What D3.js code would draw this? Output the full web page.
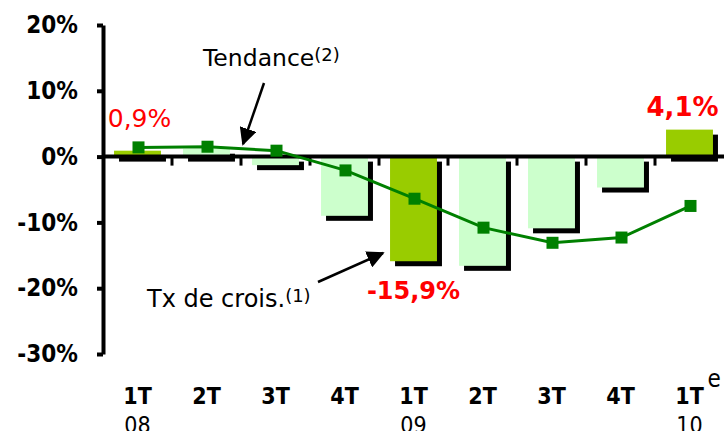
<!DOCTYPE html>
<html>
<head>
<meta charset="utf-8">
<script src="https://cdn.jsdelivr.net/npm/d3@7"></script>
<style>
  body { margin: 0; background: #fff; }
  svg { display: block; }
  text { font-family: "DejaVu Sans Condensed", "DejaVu Sans", sans-serif; }
  text.wide { font-family: "DejaVu Sans", sans-serif; }
</style>
</head>
<body>
<svg id="chart" width="724" height="431"></svg>
<script>
// data
const quarters = ["1T", "2T", "3T", "4T", "1T", "2T", "3T", "4T", "1T"];
const years = ["08", "", "", "", "09", "", "", "", "10"];
const growth = [0.9, 1.2, -1.3, -9.0, -15.9, -16.6, -10.9, -4.7, 4.1];
const trend = [1.4, 1.5, 0.9, -2.1, -6.4, -10.8, -13.1, -12.3, -7.5];
const yTicks = [20, 10, 0, -10, -20, -30];
const valueLabels = [
  { i: 0, text: "0,9%", bold: false },
  { i: 4, text: "-15,9%", bold: true },
  { i: 8, text: "4,1%", bold: true },
];

const keys = quarters.map((q, i) => i);
const svg = d3.select("#chart");

const x = d3.scaleBand().domain(keys).range([103, 724])
  .paddingInner(0.32).paddingOuter(0.16);
const y = d3.scaleLinear().domain([-30, 20]).range([354, 25]);

const barColor = (i) => (quarters[i] === "1T" ? "#99cc00" : "#ccffcc");
const off = 5;

// bar shadows
svg.append("g").selectAll("rect").data(growth).join("rect")
  .attr("x", (d, i) => x(i) + off)
  .attr("y", (d) => Math.min(y(d), y(0)) + off)
  .attr("width", x.bandwidth())
  .attr("height", (d) => Math.abs(y(d) - y(0)))
  .attr("fill", "#000");

// bars
svg.append("g").selectAll("rect").data(growth).join("rect")
  .attr("x", (d, i) => x(i))
  .attr("y", (d) => Math.min(y(d), y(0)))
  .attr("width", x.bandwidth())
  .attr("height", (d) => Math.abs(y(d) - y(0)))
  .attr("fill", (d, i) => barColor(i));

// y axis
const yAxis = svg.append("g")
  .attr("transform", "translate(103,0)")
  .call(d3.axisLeft(y).tickValues(yTicks).tickSize(6).tickSizeOuter(0)
    .tickPadding(19).tickFormat((d) => d + "%"));
yAxis.select(".domain").attr("stroke-width", 4);
yAxis.selectAll(".tick line").attr("stroke-width", 4);
yAxis.selectAll(".tick text")
  .style("font-family", '"DejaVu Sans Condensed", "DejaVu Sans", sans-serif')
  .attr("font-size", 24).attr("font-weight", "bold").attr("fill", "#000");

// x axis line at 0 and separators
svg.append("line")
  .attr("x1", 103).attr("x2", 724)
  .attr("y1", y(0)).attr("y2", y(0))
  .attr("stroke", "#000").attr("stroke-width", 4);
const sep = keys.slice(1).map((i) => x(i) - x.step() * x.paddingInner() / 2);
svg.append("g").selectAll("line").data(sep).join("line")
  .attr("x1", (d) => d).attr("x2", (d) => d)
  .attr("y1", y(0)).attr("y2", y(0) + 9)
  .attr("stroke", "#000").attr("stroke-width", 3);

// category labels
const cx = (i) => x(i) + x.bandwidth() / 2;
const xl = svg.append("g");
xl.selectAll("text.q").data(quarters).join("text")
  .attr("class", "q")
  .attr("x", (d, i) => cx(i)).attr("y", 404)
  .attr("text-anchor", "middle")
  .attr("font-size", 23).attr("font-weight", "bold")
  .text((d) => d);
xl.selectAll("text.yr").data(years).join("text")
  .attr("class", "yr")
  .attr("x", (d, i) => cx(i)).attr("y", 433)
  .attr("text-anchor", "middle")
  .attr("font-size", 23)
  .text((d) => d);
xl.append("text")
  .attr("x", cx(8) + 18).attr("y", 387)
  .attr("font-size", 24)
  .text("e");

// trend line
svg.append("path")
  .datum(trend)
  .attr("fill", "none")
  .attr("stroke", "#008000")
  .attr("stroke-width", 3)
  .attr("d", d3.line().x((d, i) => cx(i) + 1).y((d) => y(d)));
svg.append("g").selectAll("rect").data(trend).join("rect")
  .attr("x", (d, i) => cx(i) + 1 - 6)
  .attr("y", (d) => y(d) - 6)
  .attr("width", 12).attr("height", 12)
  .attr("fill", "#008000");

// value labels
const labelSize = [25, 24, 26];
const labelShift = [2, 0, -7];
svg.append("g").selectAll("text").data(valueLabels).join("text")
  .attr("class", "wide")
  .attr("x", (d, k) => cx(d.i) + labelShift[k])
  .attr("y", (d) => growth[d.i] >= 0 ? y(growth[d.i]) - (d.i === 0 ? 24 : 14) : y(growth[d.i]) + 38)
  .attr("text-anchor", "middle")
  .attr("font-size", (d, k) => labelSize[k])
  .attr("font-weight", (d) => d.bold ? "bold" : "normal")
  .attr("fill", "#ff0000")
  .text((d) => d.text);

// annotations
svg.append("defs").append("marker")
  .attr("id", "arrow").attr("viewBox", "0 0 10 10")
  .attr("refX", 9).attr("refY", 5)
  .attr("markerWidth", 7).attr("markerHeight", 7)
  .attr("markerUnits", "strokeWidth")
  .attr("orient", "auto")
  .append("path").attr("d", "M0,0L10,5L0,10z").attr("fill", "#000");

const t1 = svg.append("text").attr("class", "wide").attr("x", 203).attr("y", 66)
  .attr("font-size", 23.5).text("Tendance");
t1.append("tspan").attr("font-size", 18).attr("dy", -5).text("(2)");
svg.append("line")
  .attr("x1", 264).attr("y1", 83).attr("x2", 243).attr("y2", 144)
  .attr("stroke", "#000").attr("stroke-width", 2.5)
  .attr("marker-end", "url(#arrow)");

const t2 = svg.append("text").attr("class", "wide").attr("x", 147).attr("y", 307)
  .attr("font-size", 24).text("Tx de crois.");
t2.append("tspan").attr("font-size", 18).attr("dy", -5).text("(1)");
svg.append("line")
  .attr("x1", 318).attr("y1", 282).attr("x2", 383).attr("y2", 253)
  .attr("stroke", "#000").attr("stroke-width", 2.5)
  .attr("marker-end", "url(#arrow)");
</script>
</body>
</html>
